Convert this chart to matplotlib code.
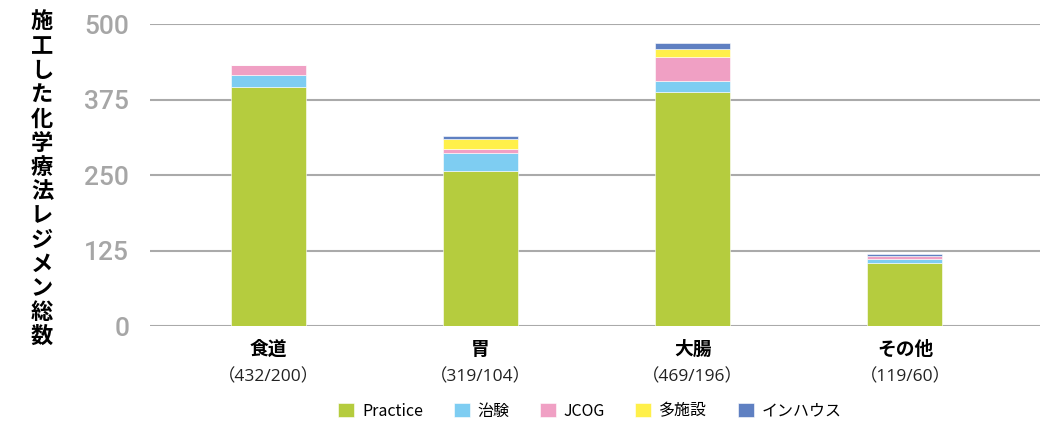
import matplotlib
matplotlib.use("Agg")
from matplotlib import pyplot as plt
import numpy as np

plt.rcParams['font.family'] = ['Noto Sans CJK JP', 'DejaVu Sans']

categories = ["食道", "胃", "大腸", "その他"]
counts = ["（432/200）", "（319/104）", "（469/196）", "（119/60）"]
series_names = ["Practice", "治験", "JCOG", "多施設", "インハウス"]
practice = [395, 257, 388, 104]
chiken = [21, 30, 18, 7]
jcog = [16, 7, 39, 6]
tashisetsu = [0, 16, 14, 0]
inhouse = [0, 5, 10, 2]
yticks = [0, 125, 250, 375, 500]
ylabel = "施工した化学療法レジメン総数"

colors = ["#b5cc3e", "#7ecdf2", "#f0a0c4", "#fff04a", "#5f80c2"]

fig = plt.figure(figsize=(10.42, 4.24), dpi=100)
ax = fig.add_axes([150/1042, 1 - 326.3/424, 890/1042, (326.3 - 24)/424])

x = np.arange(len(categories))
bottom = np.zeros(len(categories))
for name, vals, c in zip(series_names, [practice, chiken, jcog, tashisetsu, inhouse], colors):
    ax.bar(x, vals, 0.353, bottom=bottom, color=c, label=name, zorder=3,
           edgecolor="white", linewidth=0.4)
    bottom += np.array(vals)

ax.set_xlim(-0.556, 3.636)
ax.set_ylim(0, 500)
ax.set_yticks(yticks)
ax.set_yticklabels([str(t) for t in yticks], color="#a6a6a6", fontsize=19,
                   fontweight="medium", family=['Roboto', 'DejaVu Sans'])
ax.yaxis.grid(True, color="#aaaaaa", linewidth=1.5, zorder=0)
ax.tick_params(axis="y", length=0, pad=15)
ax.tick_params(axis="x", length=0)
ax.set_xticks([])
for s in ax.spines.values():
    s.set_visible(False)

for i in range(len(categories)):
    ax.text(x[i], -22, categories[i], ha="center", va="top", fontsize=13.5,
            fontweight="bold", clip_on=False)
    ax.text(x[i], -70, counts[i], ha="center", va="top", fontsize=12.5,
            color="#222222", clip_on=False,
            family=['Open Sans', 'Noto Sans CJK JP'])

# vertical y label, one character per line
for k, ch in enumerate(ylabel):
    fig.text(42/1042, 1 - (22 + k*24.2)/424, ch, ha="center", va="center",
             fontsize=16, fontweight="bold")

fig.legend(loc="center", bbox_to_anchor=(590/1042, 1 - 411/424), ncol=5,
           frameon=False, fontsize=11.5, handlelength=1.0, handleheight=1.0,
           handletextpad=0.5, columnspacing=1.9)

fig.savefig("out.png", dpi=100)
